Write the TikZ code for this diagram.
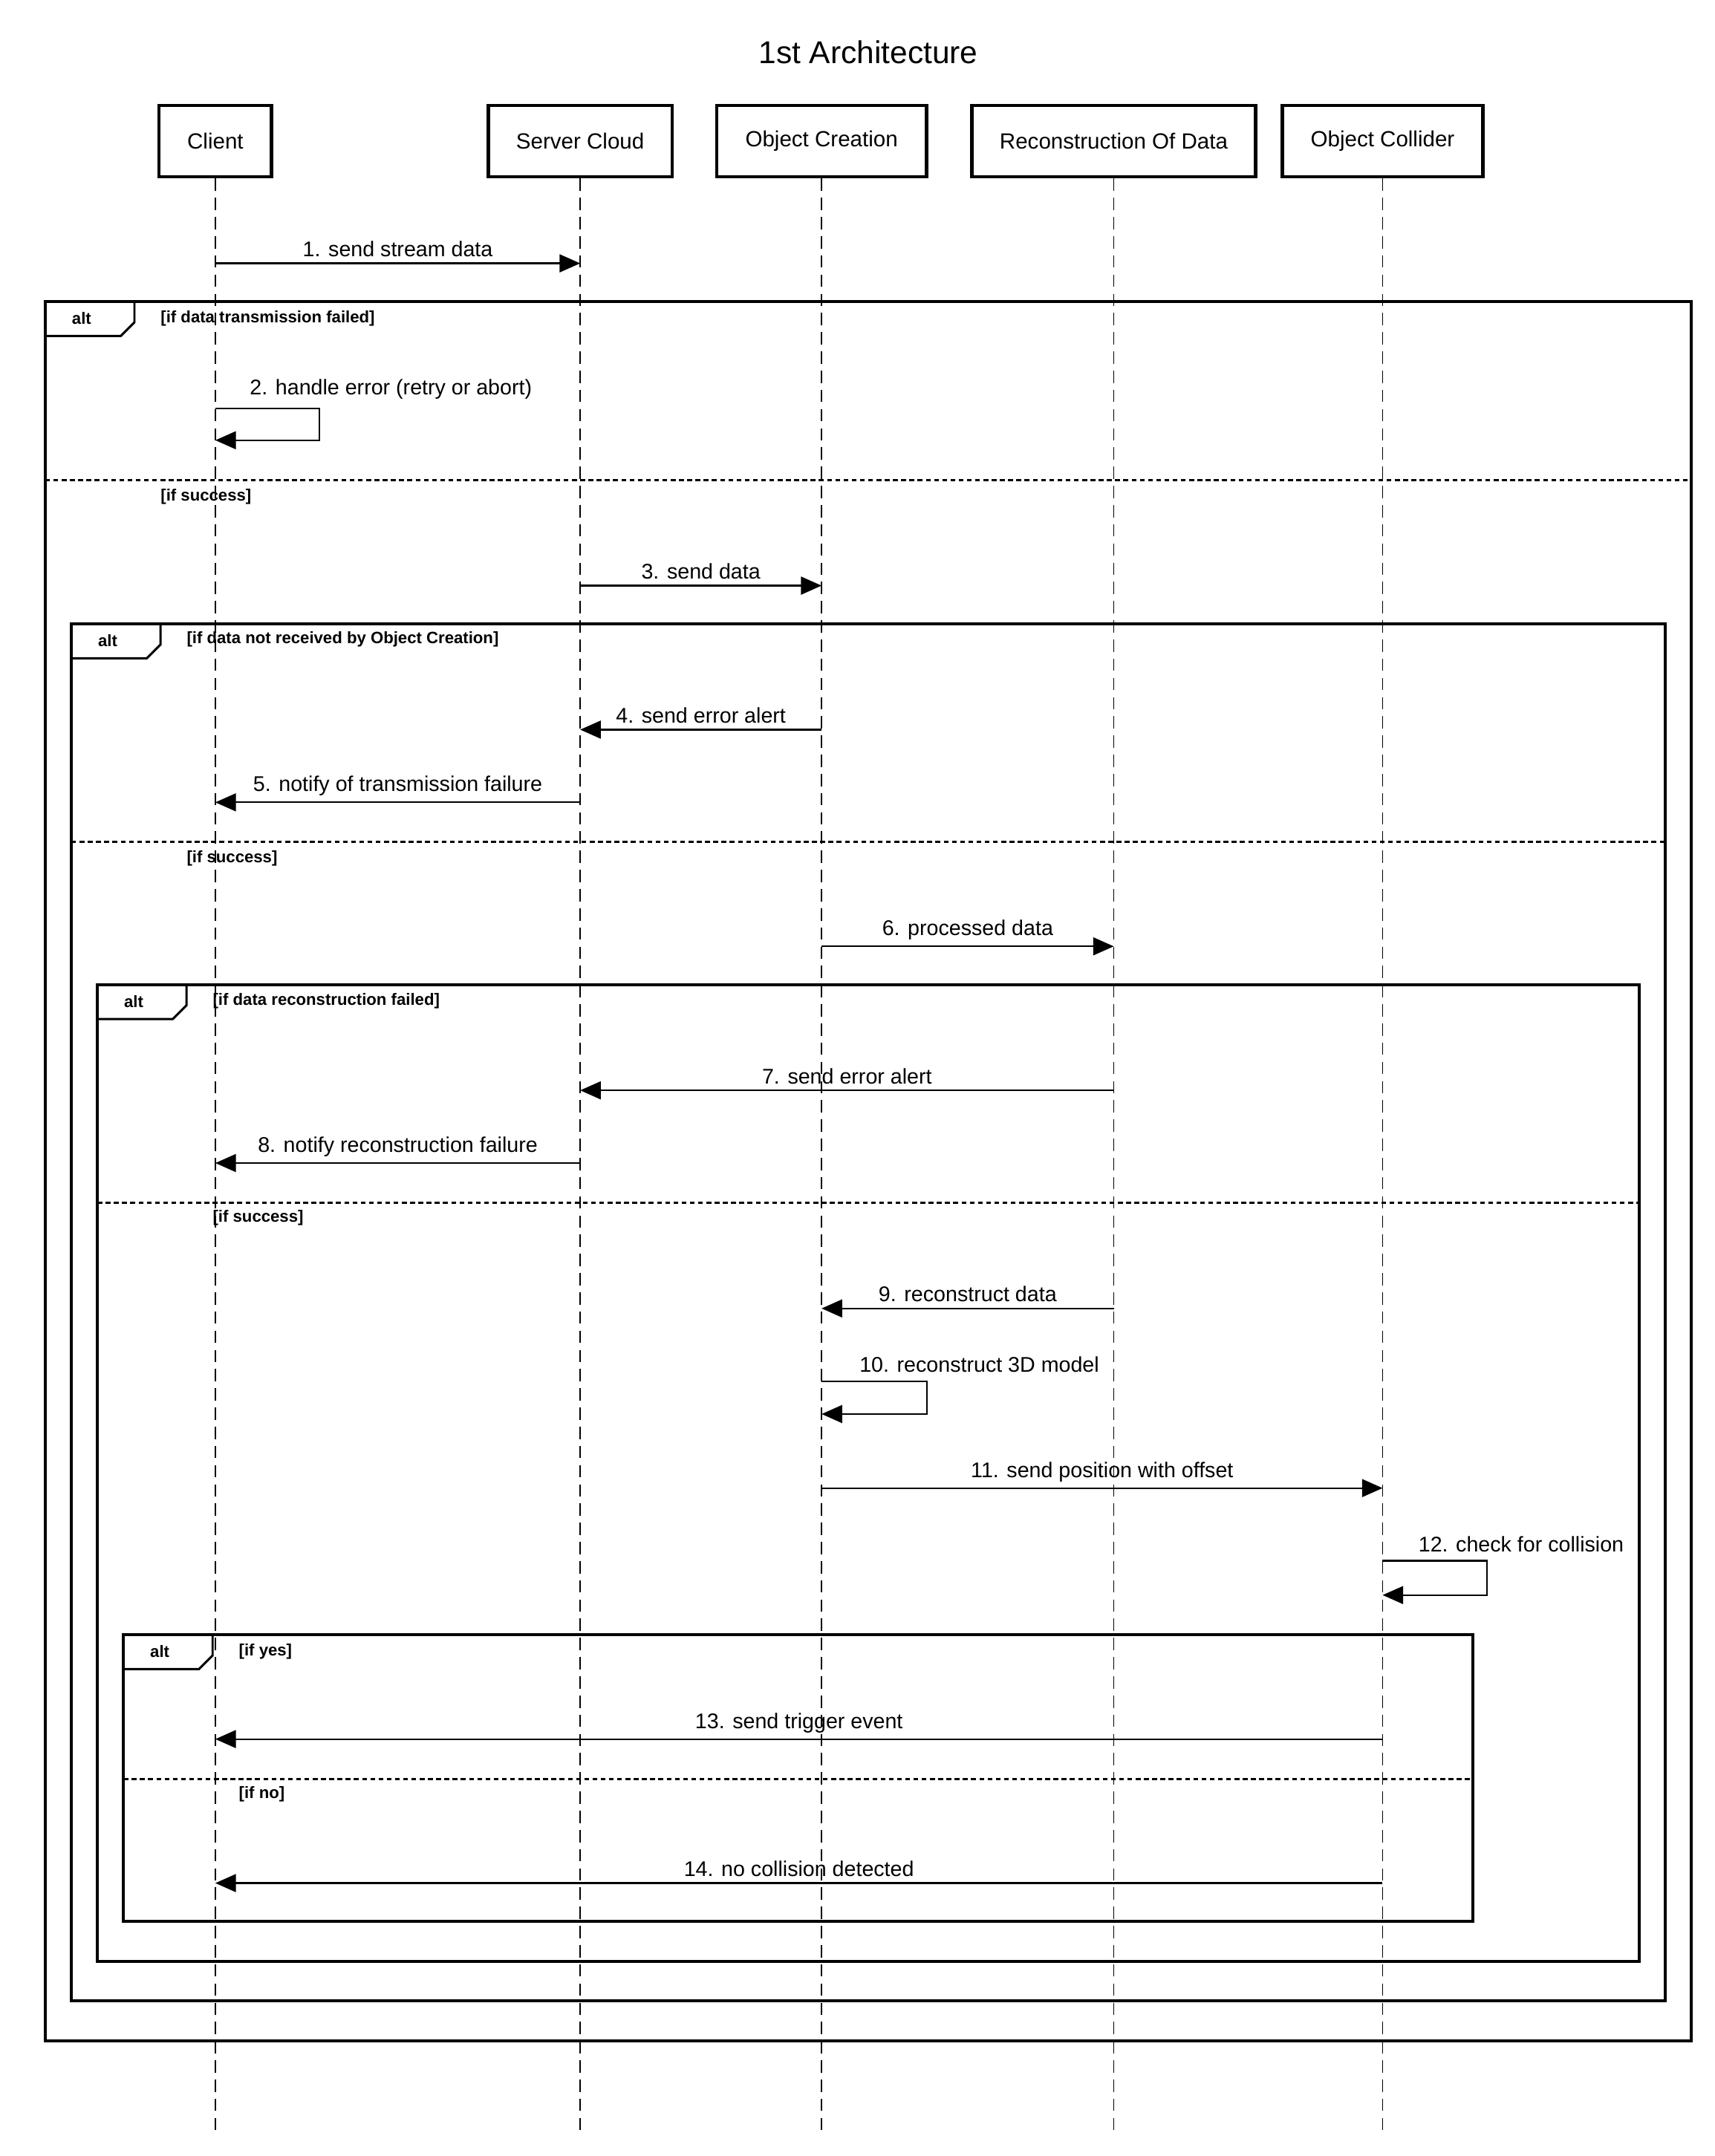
\documentclass[tikz,border=0pt]{standalone}
\usepackage{fontspec}
\setmainfont{Liberation Sans}
\usetikzlibrary{arrows.meta}
\begin{document}
\begin{tikzpicture}[x=1pt,y=-1pt,
  actor/.style={draw,line width=2.4pt,minimum height=52pt,font=\fontsize{16}{18}\selectfont,inner sep=0pt},
  life/.style={line width=1pt,dash pattern=on 9pt off 5pt},
  msg/.style={line width=1.2pt,-{Triangle[length=15pt,width=13pt]}},
  lbl/.style={font=\fontsize{15.5}{18}\selectfont,inner sep=1pt},
  frame/.style={line width=2.2pt},
  cond/.style={font=\bfseries\fontsize{12}{14}\selectfont,anchor=west,inner sep=0pt},
  sep/.style={line width=1.6pt,dash pattern=on 3.5pt off 2.5pt}]
\useasboundingbox (0,0) rectangle (1250,1572);
\node[font=\fontsize{23}{26}\selectfont] (title) at (633,38) {1st Architecture};
\node[actor,minimum width=82pt] (c) at (157,103) {Client};
\node[actor,minimum width=134pt] (s) at (423,103) {Server Cloud};
\node[actor,minimum width=153pt] (o) at (599,103) {Object Creation};
\node[actor,minimum width=207pt] (r) at (812,103) {Reconstruction Of Data};
\node[actor,minimum width=146pt] (k) at (1008,103) {Object Collider};
\foreach \n/\x in {c/157,s/423,o/599,r/812,k/1008}{
  \coordinate (\n end) at (\x,1555);
  \draw[life] (\n.south) -- (\n end);}
\newcommand{\altframe}[5]{%
  \draw[frame] (#1,#2) rectangle (#3,#4);
  \draw[line width=1.6pt] (#1,#2+25) -- (#5-10,#2+25) -- (#5,#2+15) -- (#5,#2);
  \node[cond,anchor=center] at ({(#1+#5)/2-6},#2+12) {alt};}
\altframe{33}{220}{1233}{1488}{98}
\node[cond] at (117,232) {[if data transmission failed]};
\draw[sep] (33,350) -- (1233,350);
\node[cond] at (117,362) {[if success]};
\altframe{52}{455}{1214}{1459}{117}
\node[cond] at (136,466) {[if data not received by Object Creation]};
\draw[sep] (52,614) -- (1214,614);
\node[cond] at (136,626) {[if success]};
\altframe{71}{718}{1195}{1430}{136}
\node[cond] at (155,730) {[if data reconstruction failed]};
\draw[sep] (71,877) -- (1195,877);
\node[cond] at (155,888) {[if success]};
\altframe{90}{1192}{1074}{1401}{155}
\node[cond] at (174,1204) {[if yes]};
\draw[sep] (90,1297) -- (1074,1297);
\node[cond] at (174,1308) {[if no]};
\draw[msg] (157,192) -- node[lbl,above=3pt] {1. send stream data} (423,192);
\draw[msg] (157,298) -- (233,298) -- (233,321) -- (157,321);
\node[lbl,anchor=west] at (181,284) {2. handle error (retry or abort)};
\draw[msg] (423,427) -- node[lbl,above=3pt] {3. send data} (599,427);
\draw[msg] (599,532) -- node[lbl,above=3pt] {4. send error alert} (423,532);
\draw[msg] (423,585) -- node[lbl,above=3pt] {5. notify of transmission failure} (157,585);
\draw[msg] (599,690) -- node[lbl,above=3pt] {6. processed data} (812,690);
\draw[msg] (812,795) -- node[lbl,above=3pt] {7. send error alert} (423,795);
\draw[msg] (423,848) -- node[lbl,above=3pt] {8. notify reconstruction failure} (157,848);
\draw[msg] (812,954) -- node[lbl,above=3pt] {9. reconstruct data} (599,954);
\draw[msg] (599,1007) -- (676,1007) -- (676,1031) -- (599,1031);
\node[lbl] at (714,995) {10. reconstruct 3D model};
\draw[msg] (599,1085) -- node[lbl,above=3pt] {11. send position with offset} (1008,1085);
\draw[msg] (1008,1138) -- (1084,1138) -- (1084,1163) -- (1008,1163);
\node[lbl] at (1109,1126) {12. check for collision};
\draw[msg] (1008,1268) -- node[lbl,above=3pt] {13. send trigger event} (157,1268);
\draw[msg] (1008,1373) -- node[lbl,above=3pt] {14. no collision detected} (157,1373);
\end{tikzpicture}
\end{document}
